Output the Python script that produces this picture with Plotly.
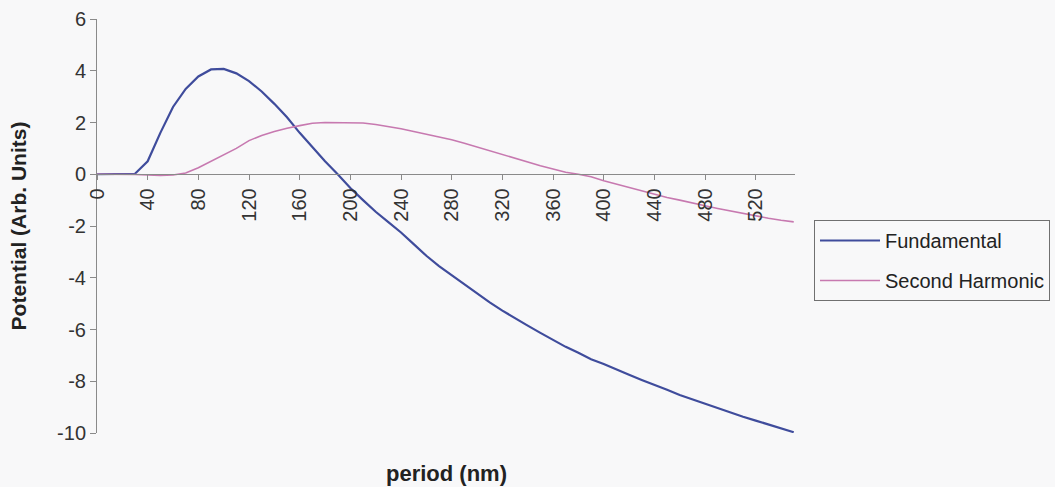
import plotly.graph_objects as go

period_nm = list(range(0, 551, 10))

fundamental = [
    0.0, 0.0, 0.0, 0.02, 0.5, 1.6, 2.6, 3.3, 3.78, 4.05,
    4.07, 3.9, 3.6, 3.2, 2.72, 2.2, 1.6, 1.05, 0.5, 0.0,
    -0.53, -1.0, -1.45, -1.85, -2.25, -2.7, -3.15, -3.55, -3.9, -4.28,
    -4.62, -4.95, -5.27, -5.57, -5.85, -6.13, -6.4, -6.67, -6.9, -7.15,
    -7.33, -7.55, -7.75, -7.95, -8.13, -8.33, -8.53, -8.7, -8.88, -9.05,
    -9.22, -9.37, -9.52, -9.68, -9.82, -9.97,
]

second_harmonic = [
    0.0, 0.0, 0.0, -0.01, -0.03, -0.05, -0.03, 0.05, 0.25, 0.5,
    0.75, 1.0, 1.3, 1.5, 1.65, 1.78, 1.88, 1.97, 2.0, 2.0,
    2.0, 1.98, 1.92, 1.85, 1.76, 1.65, 1.55, 1.45, 1.33, 1.2,
    1.05, 0.9, 0.75, 0.6, 0.46, 0.33, 0.2, 0.08, 0.0, -0.1,
    -0.25, -0.38, -0.5, -0.65, -0.78, -0.9, -1.0, -1.12, -1.22, -1.32,
    -1.42, -1.52, -1.6, -1.7, -1.78, -1.84,
]

x_ticks = list(range(0, 521, 40))
y_ticks = list(range(-10, 7, 2))

FONT = "Arial, Liberation Sans, sans-serif"

fig = go.Figure()
fig.add_trace(go.Scatter(x=period_nm, y=fundamental, mode="lines", name="Fundamental",
                         legendgroup="a",
                         line=dict(color="#3f4c9c", width=2.2)))
fig.add_trace(go.Scatter(x=period_nm, y=second_harmonic, mode="lines", name="Second Harmonic",
                         legendgroup="b",
                         line=dict(color="#c779b0", width=1.6)))

W, H = 1055, 487
ml, mr, mt, mb = 97, 260, 19, 54
ymin, ymax = -10, 6
zero_pos = (0 - ymin) / (ymax - ymin)

fig.update_layout(
    width=W, height=H,
    margin=dict(l=ml, r=mr, t=mt, b=mb, autoexpand=False),
    paper_bgcolor="#f8f8f9",
    plot_bgcolor="#f8f8f9",
    font=dict(family=FONT, size=20, color="#333333"),
    showlegend=True,
    legend=dict(
        x=(814 - ml) / (W - ml - mr), y=(H - mb - 220) / (H - mt - mb),
        xanchor="left", yanchor="top",
        bgcolor="rgba(0,0,0,0)", bordercolor="#707070", borderwidth=1,
        font=dict(family=FONT, size=20, color="#222222"),
        itemwidth=60, traceorder="grouped", tracegroupgap=11,
    ),
    xaxis=dict(
        range=[0, 551], tickmode="array", tickvals=x_ticks,
        ticktext=[str(v) for v in x_ticks], tickangle=-90,
        anchor="free", position=zero_pos,
        showline=True, linecolor="#8a8a8a", linewidth=1,
        ticks="outside", ticklen=5, tickcolor="#8a8a8a",
        showgrid=False, zeroline=False,
        tickfont=dict(family=FONT, size=20, color="#333333"),
    ),
    yaxis=dict(
        range=[ymin, ymax], tickmode="array", tickvals=y_ticks,
        ticktext=[str(v) for v in y_ticks],
        showline=True, linecolor="#8a8a8a", linewidth=1,
        ticks="outside", ticklen=6, tickcolor="#8a8a8a",
        showgrid=False, zeroline=False,
        tickfont=dict(family=FONT, size=20, color="#333333"),
        title=dict(text="<b>Potential (Arb. Units)</b>", standoff=24,
                   font=dict(family=FONT, size=21, color="#222222")),
        automargin=False,
    ),
    annotations=[dict(
        text="<b>period (nm)</b>", x=0.5, y=(H - mb - 473) / (H - mt - mb),
        xref="paper", yref="paper", xanchor="center", yanchor="middle",
        showarrow=False, font=dict(family=FONT, size=22, color="#222222"),
    )],
)

fig.write_html("out.html")
